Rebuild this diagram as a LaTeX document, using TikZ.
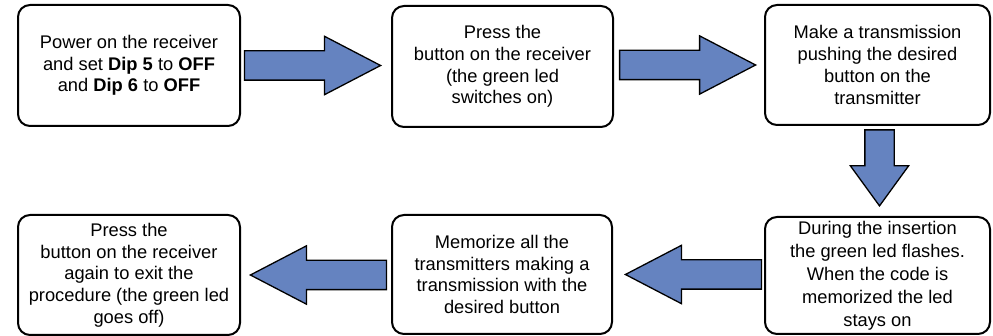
\documentclass[tikz,border=0pt]{standalone}
\usepackage{fontspec}
\setmainfont{Liberation Sans}
\usetikzlibrary{shapes.arrows,calc}
\definecolor{arrowblue}{HTML}{6583C0}
\tikzset{
  stepbox/.style={draw, line width=2pt, rounded corners=12pt, align=center,
    inner sep=2pt, font=\fontsize{18.3}{21.7}\selectfont},
  fatarrow/.style={single arrow, draw, line width=1.3pt, fill=arrowblue, anchor=tip,
    inner xsep=0pt, inner ysep=14pt, minimum width=57pt, single arrow head extend=14.5pt,
    single arrow tip angle=55, minimum height=136pt},
}
\begin{document}
\begin{tikzpicture}[x=1pt,y=-1pt]
      \useasboundingbox (0,0) rectangle (993,336);
      \node[stepbox, minimum width=222pt, minimum height=121pt] (1) at (129,65.5)
        {Power on the receiver\\and set \textbf{Dip 5} to \textbf{OFF}\\and \textbf{Dip 6} to \textbf{OFF}};
      \node[stepbox, minimum width=221pt, minimum height=121pt] (2) at (502.5,66.5)
        {Press the\\button on the receiver\\(the green led\\switches on)};
      \node[stepbox, minimum width=225pt, minimum height=120pt] (3) at (877.5,65)
        {Make a transmission\\pushing the desired\\button on the\\transmitter};
      \node[stepbox, minimum width=225pt, minimum height=117pt,
        font=\fontsize{18.3}{23}\selectfont] (4) at (877.5,275.5)
        {During the insertion\\the green led flashes.\\When the code is\\memorized the led\\stays on};
      \node[stepbox, minimum width=220pt, minimum height=119pt] (5) at (502,274.5)
        {Memorize all the\\transmitters making a\\transmission with the\\desired button};
      \node[stepbox, minimum width=222pt, minimum height=120pt] (6) at (129,275)
        {Press the\\button on the receiver\\again to exit the\\procedure (the green led\\goes off)};
      \begin{scope}
        \node[fatarrow] (a12) at ($(2.west)+(-9,-1)$) {};
        \node[fatarrow] (a23) at ($(3.west)+(-7,0)$) {};
        \node[fatarrow, rotate=-90, minimum height=76pt, single arrow tip angle=72] (a34)
          at ($(4.north)+(2,-9)$) {};
        \node[fatarrow, rotate=180] (a45) at ($(5.east)+(11,0)$) {};
        \node[fatarrow, rotate=180] (a56) at ($(6.east)+(8,0)$) {};
      \end{scope}
    \end{tikzpicture}
\end{document}
